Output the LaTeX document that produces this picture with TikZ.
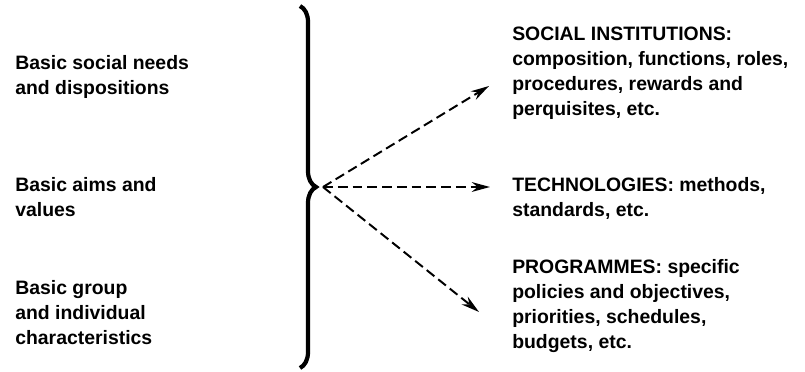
\documentclass[tikz,border=0pt]{standalone}
\usepackage{fontspec}
\setmainfont{Liberation Sans}
\usetikzlibrary{arrows.meta}
\usetikzlibrary{decorations.pathreplacing}
\tikzset{
	>={Stealth[length=13pt,width=7pt]},
	textblock/.style={
		anchor=north west,
		inner sep=0pt,
		align=left,
		font=\fontsize{13.8}{17.7}\selectfont\bfseries},
	flow/.style={draw, line width=1.4pt, dash pattern=on 7pt off 3.5pt, ->},
	decoration={brace, amplitude=0.4cm},
	tuborg/.style={decorate, line width=3pt},
}
\begin{document}
\begin{tikzpicture}[x=0.025cm, y=-0.025cm]
	\useasboundingbox (0,0) rectangle (805,371);

	% left column
	\node[textblock] (needs) at (15,55)  {Basic social needs\\and dispositions};
	\node[textblock] (aims)  at (15,177) {Basic aims and\\values};
	\node[textblock] (group) at (15,280) {Basic group\\and individual\\characteristics};

	% right column
	\node[textblock] (inst) at (512,27)  {SOCIAL INSTITUTIONS:\\composition, functions, roles,\\procedures, rewards and\\perquisites, etc.};
	\node[textblock] (tech) at (512,177) {TECHNOLOGIES: methods,\\standards, etc.};
	\node[textblock] (prog) at (512,259) {PROGRAMMES: specific\\policies and objectives,\\priorities, schedules,\\budgets, etc.};

	% brace
	\coordinate (bracetop) at (300,6);
	\coordinate (bracebot) at (300,368);
	\draw[tuborg] (bracetop) -- (bracebot);

	% arrows
	\coordinate (hub) at (323,187);
	\coordinate (toinst) at (489,86);
	\coordinate (totech) at (490,187);
	\coordinate (toprog) at (479,312);
	\draw[flow] (hub) -- (toinst);
	\draw[flow] (hub) -- (totech);
	\draw[flow] (hub) -- (toprog);
\end{tikzpicture}
\end{document}
